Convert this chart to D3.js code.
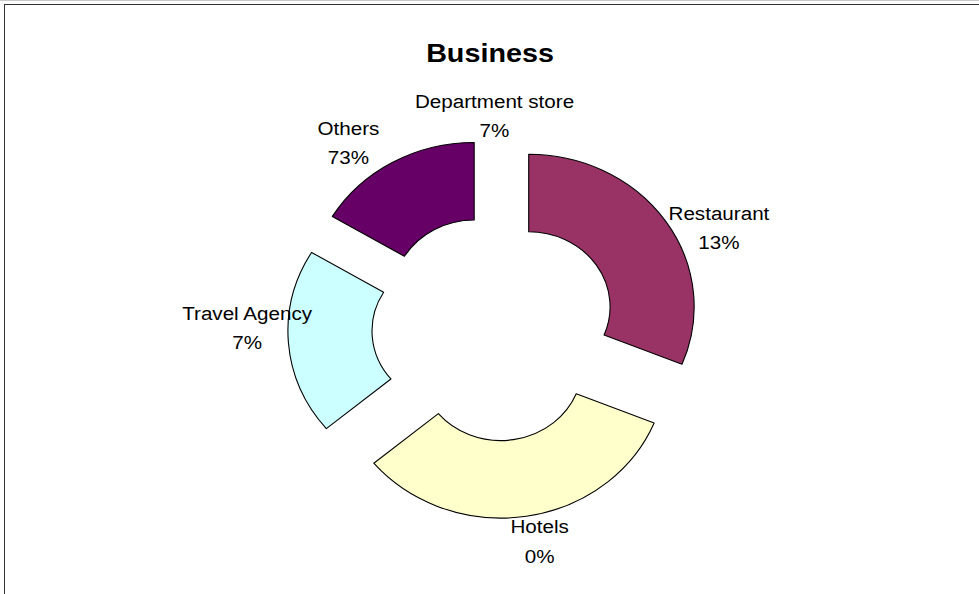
<!DOCTYPE html>
<html>
<head>
<meta charset="utf-8">
<script src="https://cdnjs.cloudflare.com/ajax/libs/d3/7.8.5/d3.min.js"></script>
<style>
  html, body { margin: 0; padding: 0; background: #fff; }
  svg { display: block; }
  text { font-family: "Liberation Sans", Arial, sans-serif; fill: #000; }
</style>
</head>
<body>
<svg id="chart" width="979" height="594"></svg>
<script>
// Business categories, clockwise from 12 o'clock
const categories = ["Department store", "Restaurant", "Hotels", "Travel Agency", "Others"];
// Ring segment sizes (counts)
const counts = [0, 19, 20, 12, 10];
// Share text printed next to each segment
const shareLabels = ["7%", "13%", "0%", "7%", "73%"];
const colors = ["#9999FF", "#993366", "#FFFFCC", "#CCFFFF", "#660066"];

const W = 979, H = 594;
const cx = 494.5, cy = 328;      // ring centre
const stretchX = 1.085;          // horizontal aspect of the plot area
const outerR = 152.5, innerR = 75;
const explode = 38;              // distance each segment is pulled out
const lineGap = 29.5;
// label placement: distance from centre and turn (degrees) away from the segment bisector
const labelRadius = [212.5, 230, 217, 228, 229];
const labelTurn = [0, 8, -2.2, 4.6, -6.5];

const svg = d3.select("#chart");

// chart area frame
svg.append("line").attr("x1", 0).attr("x2", W).attr("y1", 0.5).attr("y2", 0.5)
  .attr("stroke", "#c8c8c8").attr("stroke-width", 1);
svg.append("rect").attr("x", 4.5).attr("y", 4.5).attr("width", W + 20).attr("height", H + 20)
  .attr("fill", "none").attr("stroke", "#333").attr("stroke-width", 1);

// title
svg.append("text")
  .attr("transform", `translate(490,62) scale(${stretchX},1)`)
  .attr("text-anchor", "middle")
  .style("font-size", "26.5px").style("font-weight", "bold")
  .text("Business");

const rows = categories.map((c, i) => ({ name: c, value: counts[i], share: shareLabels[i], color: colors[i] }));

const pie = d3.pie().sort(null).value(d => d.value).startAngle(0).endAngle(2 * Math.PI);
const arcs = pie(rows);
const arc = d3.arc().innerRadius(innerR).outerRadius(outerR);

const ring = svg.append("g").attr("transform", `translate(${cx},${cy}) scale(${stretchX},1)`);

const mid = a => (a.startAngle + a.endAngle) / 2;

ring.selectAll("path.seg")
  .data(arcs.filter(a => a.value > 0))
  .join("path")
  .attr("class", "seg")
  .attr("d", arc)
  .attr("transform", a => `translate(${explode * Math.sin(mid(a))},${-explode * Math.cos(mid(a))})`)
  .attr("fill", a => a.data.color)
  .attr("stroke", "#000")
  .attr("stroke-width", 1.1)
  .attr("vector-effect", "non-scaling-stroke")
  .attr("stroke-linejoin", "round");

// category + share labels outside each segment
const labels = svg.selectAll("g.lbl")
  .data(arcs)
  .join("g")
  .attr("class", "lbl")
  .attr("transform", (a, i) => {
    const m = mid(a) + labelTurn[i] * Math.PI / 180;
    const r = labelRadius[i];
    const x = cx + stretchX * r * Math.sin(m);
    const y = cy - r * Math.cos(m);
    return `translate(${x},${y}) scale(${stretchX},1)`;
  });

labels.append("text")
  .attr("text-anchor", "middle")
  .attr("y", -lineGap / 2 + 7)
  .style("font-size", "19px")
  .text(a => a.data.name);

labels.append("text")
  .attr("text-anchor", "middle")
  .attr("y", lineGap / 2 + 7)
  .style("font-size", "19px")
  .text(a => a.data.share);
</script>
</body>
</html>
